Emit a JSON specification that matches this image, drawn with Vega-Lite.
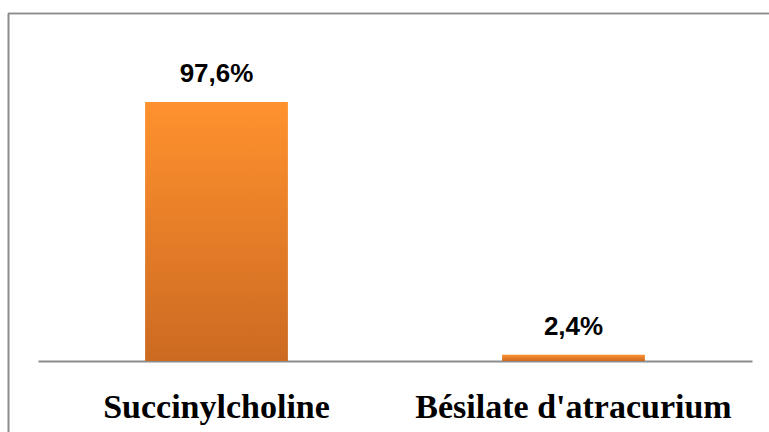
{
  "$schema": "https://vega.github.io/schema/vega-lite/v6.json",
  "width": 761,
  "height": 419,
  "autosize": {"type": "none"},
  "padding": {"left": 8, "top": 13, "right": 0, "bottom": 0},
  "background": "white",
  "config": {"view": {"stroke": null}},
  "data": {
    "values": [
      {"drug": "Succinylcholine", "pct": 97.6, "label": "97,6%"},
      {"drug": "Bésilate d'atracurium", "pct": 2.4, "label": "2,4%"}
    ]
  },
  "encoding": {
    "x": {
      "field": "drug",
      "type": "nominal",
      "sort": null,
      "scale": {"range": [30, 744], "paddingInner": 0.6, "paddingOuter": 0.3},
      "axis": {
        "orient": "bottom",
        "offset": -71,
        "title": null,
        "domainColor": "#8c8c8c",
        "domainWidth": 2,
        "ticks": false,
        "tickSize": 0,
        "labelFont": "Liberation Serif",
        "labelFontWeight": "bold",
        "labelFontSize": 34,
        "labelColor": "black",
        "labelAngle": 0,
        "labelLimit": 0,
        "labelPadding": 56,
        "labelBaseline": "alphabetic"
      }
    },
    "y": {
      "field": "pct",
      "type": "quantitative",
      "scale": {"domain": [-26.75, 131.14], "nice": false, "zero": false},
      "axis": {
        "orient": "left",
        "title": null,
        "domainColor": "#8c8c8c",
        "domainWidth": 2,
        "ticks": false,
        "labels": false,
        "grid": false
      }
    }
  },
  "layer": [
    {
      "mark": {"type": "rule", "color": "#8c8c8c", "strokeWidth": 1.5},
      "encoding": {"y": {"datum": 130.95}, "x": null}
    },
    {
      "mark": {
        "type": "bar",
        "color": {
          "gradient": "linear",
          "x1": 0, "y1": 0, "x2": 0, "y2": 1,
          "stops": [
            {"offset": 0, "color": "#FF922E"},
            {"offset": 1, "color": "#CC6A22"}
          ]
        }
      },
      "encoding": {"y2": {"datum": 0}}
    },
    {
      "mark": {
        "type": "text",
        "font": "Liberation Sans",
        "fontWeight": "bold",
        "fontSize": 26,
        "color": "black",
        "baseline": "alphabetic",
        "dy": -20
      },
      "encoding": {"text": {"field": "label"}}
    }
  ]
}
